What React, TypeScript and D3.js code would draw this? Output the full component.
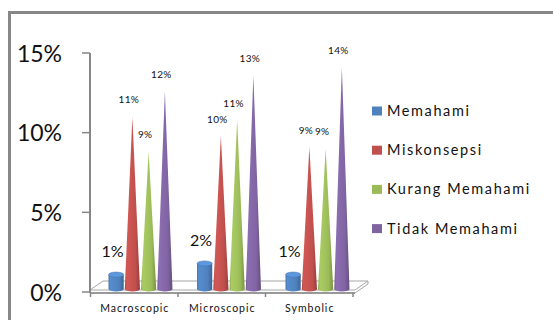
import React from "react";
import * as d3 from "d3";

const categories = ["Macroscopic", "Microscopic", "Symbolic"];
const seriesNames = ["Memahami", "Miskonsepsi", "Kurang Memahami", "Tidak Memahami"];
const memahami = [0.009, 0.016, 0.009];
const miskonsepsi = [0.108, 0.096, 0.089];
const kurangMemahami = [0.086, 0.106, 0.088];
const tidakMemahami = [0.124, 0.134, 0.139];
const yTicks = [0, 0.05, 0.1, 0.15];

const seriesValues = [memahami, miskonsepsi, kurangMemahami, tidakMemahami];
const colors = ["#4f81bd", "#c0504d", "#9bbb59", "#8064a2"];

const W = 553;
const H = 320;
const FONT = "Lato, 'Open Sans', sans-serif";

export default function App() {
  // value axis (front plane) and bar plane (slightly raised into the floor)
  const yAxis = d3.scaleLinear().domain([0, 0.15]).range([292, 53]);
  const yBar = d3.scaleLinear().domain([0, 0.15]).range([289, 50]);
  const xAxis = d3.scaleBand<string>().domain(categories).range([90.5, 353]);
  const xBar = d3.scaleBand<string>().domain(categories).range([92, 357.5]);
  const x1 = d3.scaleBand<string>().domain(seriesNames).range([16, 81]);
  const pct = d3.format(".0%");

  const baseY = yBar(0);
  const rx = 7.6;
  const ry = 2.6;

  const gradId = (i: number) => `g${i}`;

  const shade = (c: string, k: number) => d3.color(c)!.darker(k).formatHex();
  const tint = (c: string, k: number) => d3.color(c)!.brighter(k).formatHex();

  const marks: React.ReactNode[] = [];
  categories.forEach((cat, ci) => {
    seriesNames.forEach((s, si) => {
      const v = seriesValues[si][ci];
      const cx = (xBar(cat) ?? 0) + (x1(s) ?? 0) + x1.bandwidth() / 2;
      const top = yBar(v);
      if (si === 0) {
        // cylinder
        marks.push(
          <g key={`${ci}-${si}`}>
            <path
              d={`M${cx - rx},${top} L${cx - rx},${baseY} A${rx},${ry} 0 0 0 ${cx + rx},${baseY} L${cx + rx},${top} Z`}
              fill={`url(#${gradId(si)})`}
            />
            <ellipse cx={cx} cy={top} rx={rx} ry={ry} fill={tint(colors[si], 0.45)} stroke={shade(colors[si], 0.3)} strokeWidth={0.5} />
            <text
              x={cx - 3.5}
              y={top - 17.5}
              textAnchor="middle"
              fontFamily={FONT}
              fontSize={16}
              fill="#111"
            >
              {pct(v)}
            </text>
          </g>
        );
      } else {
        marks.push(
          <g key={`${ci}-${si}`}>
            <path
              d={`M${cx - rx},${baseY} L${cx},${top} L${cx + rx},${baseY} A${rx},${ry} 0 0 1 ${cx - rx},${baseY} Z`}
              fill={`url(#${gradId(si)})`}
            />
            <text
              x={cx - 3.5}
              y={top - 13.5}
              textAnchor="middle"
              fontFamily={FONT}
              fontSize={10}
              letterSpacing={0.3}
              fill="#111"
            >
              {pct(v)}
            </text>
          </g>
        );
      }
    });
  });

  const fl = 90; // floor front-left x
  const fr = 355; // floor front-right x
  const depthX = 13;
  const depthY = 9;
  const floorTop = 290;

  return (
    <svg
      width={W}
      height={H}
      style={{ position: "fixed", left: 0, top: 0, background: "#fff" }}
    >
      <defs>
        {colors.map((c, i) => (
          <linearGradient key={i} id={gradId(i)} x1="0" x2="1" y1="0" y2="0">
            <stop offset="0" stopColor={shade(c, 0.35)} />
            <stop offset="0.12" stopColor={tint(c, 0.25)} />
            <stop offset="0.4" stopColor={tint(c, 0.15)} />
            <stop offset="0.7" stopColor={c} />
            <stop offset="1" stopColor={shade(c, 0.7)} />
          </linearGradient>
        ))}
      </defs>

      {/* chart frame */}
      <rect x={9.5} y={12.5} width={560} height={340} fill="none" stroke="#878787" strokeWidth={3} />

      {/* 3D floor */}
      <path
        d={`M${fl},${floorTop} L${fl + depthX},${floorTop - depthY} L${fr + depthX},${floorTop - depthY} L${fr},${floorTop} Z`}
        fill="#fff"
        stroke="#a6a6a6"
        strokeWidth={1}
      />
      <path
        d={`M${fl},${floorTop + 3} L${fr},${floorTop + 3} L${fr + depthX},${floorTop + 3 - depthY} L${fr + depthX},${floorTop - depthY}`}
        fill="none"
        stroke="#a6a6a6"
        strokeWidth={1}
      />

      {/* value axis */}
      <line x1={90} x2={90} y1={yAxis(0.15)} y2={yAxis(0) + 1} stroke="#868686" strokeWidth={2} />
      {yTicks.map((t) => (
        <g key={t}>
          <line x1={82} x2={90} y1={yAxis(t)} y2={yAxis(t)} stroke="#868686" strokeWidth={1.5} />
          <text
            x={62}
            y={yAxis(t) + 8.5}
            textAnchor="end"
            fontFamily={FONT}
            fontSize={23}
            fill="#111"
          >
            {pct(t)}
          </text>
        </g>
      ))}

      {/* category axis */}
      <line x1={90} x2={fr} y1={293} y2={293} stroke="#868686" strokeWidth={1.5} />
      {[...categories.map((c) => xAxis(c) ?? 0), xAxis.range()[1]].map((x, i) => (
        <line key={i} x1={x} x2={x} y1={293} y2={297} stroke="#868686" strokeWidth={1.5} />
      ))}
      {categories.map((c) => (
        <text
          key={c}
          x={(xAxis(c) ?? 0) + xAxis.bandwidth() / 2 + 0.5}
          y={311.5}
          textAnchor="middle"
          fontFamily={FONT}
          fontSize={10.5}
          letterSpacing={1}
          fill="#111"
        >
          {c}
        </text>
      ))}

      {marks}

      {/* legend */}
      {seriesNames.map((s, i) => {
        const cy = 111 + i * 39.2;
        return (
          <g key={s}>
            <rect x={372} y={cy - 4.5} width={10} height={9} fill={colors[i]} />
            <text
              x={387}
              y={cy + 5}
              fontFamily={FONT}
              fontSize={14.5}
              letterSpacing={1.6}
              fill="#111"
            >
              {s}
            </text>
          </g>
        );
      })}
    </svg>
  );
}
